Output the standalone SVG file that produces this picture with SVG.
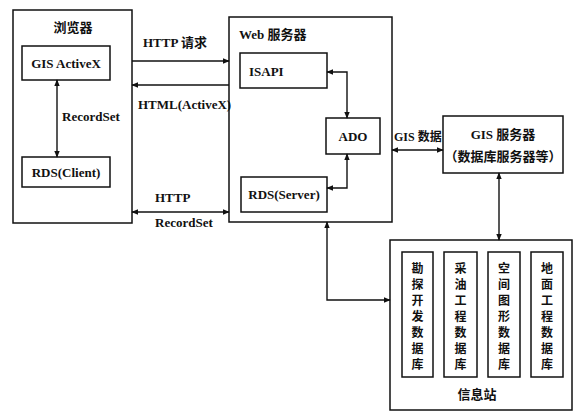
<svg xmlns="http://www.w3.org/2000/svg" width="573" height="411" viewBox="0 0 573 411">
<style>
.box{fill:#fff;stroke:#111;stroke-width:1.5}
.ln{fill:none;stroke:#111;stroke-width:1.4}
.t{font-family:"Liberation Serif","Noto Sans CJK SC",serif;font-size:13px;font-weight:bold;fill:#111}
.c{font-family:"Noto Sans CJK SC",sans-serif;font-size:13px;font-weight:bold;fill:#111}
.v{font-family:"Noto Sans CJK SC",sans-serif;font-size:12px;font-weight:bold;fill:#111;text-anchor:middle}
</style>
<defs>
<marker id="ah" viewBox="0 0 10 10" refX="9" refY="5" markerWidth="7" markerHeight="7" markerUnits="userSpaceOnUse" orient="auto-start-reverse">
<path d="M0,1 L10,5 L0,9 Z" fill="#111"/>
</marker>
</defs>
<rect width="573" height="411" fill="#fff"/>
<g id="browser">
<rect class="box" x="13" y="10" width="119" height="213"/>
<text class="c" x="73" y="32" text-anchor="middle">浏览器</text>
</g>
<g id="gisactivex">
<rect class="box" x="22" y="46" width="88" height="34"/>
<text class="t" x="66" y="68" text-anchor="middle">GIS ActiveX</text>
</g>
<g id="rdsclient">
<rect class="box" x="22" y="157" width="88" height="30"/>
<text class="t" x="66" y="177" text-anchor="middle">RDS(Client)</text>
</g>
<g id="webserver">
<rect class="box" x="229" y="17" width="163" height="205"/>
<text class="t" x="239" y="39">Web <tspan class="c">服务器</tspan></text>
</g>
<g id="isapi">
<rect class="box" x="240" y="53" width="87" height="35"/>
<text class="t" x="249" y="76">ISAPI</text>
</g>
<g id="ado">
<rect class="box" x="326" y="118" width="54" height="36"/>
<text class="t" x="353" y="141" text-anchor="middle">ADO</text>
</g>
<g id="rdsserver">
<rect class="box" x="241" y="177" width="86" height="35"/>
<text class="t" x="284" y="199" text-anchor="middle">RDS(Server)</text>
</g>
<g id="gisserver">
<rect class="box" x="443" y="116" width="120" height="57"/>
<text class="t" x="503" y="139" text-anchor="middle">GIS <tspan class="c">服务器</tspan></text>
<text class="c" x="503" y="161" text-anchor="middle">（数据库服务器等）</text>
</g>
<g id="infostation">
<rect class="box" x="390" y="240" width="182" height="170"/>
<text class="c" x="477" y="399" text-anchor="middle">信息站</text>
</g>
<g id="db1">
<rect class="box" x="402" y="252" width="31" height="125"/>
<text class="v"><tspan x="417.5" y="273">勘</tspan><tspan x="417.5" y="289">探</tspan><tspan x="417.5" y="305">开</tspan><tspan x="417.5" y="321">发</tspan><tspan x="417.5" y="337">数</tspan><tspan x="417.5" y="353">据</tspan><tspan x="417.5" y="369">库</tspan></text>
</g>
<g id="db2">
<rect class="box" x="444" y="252" width="33" height="125"/>
<text class="v"><tspan x="460.5" y="273">采</tspan><tspan x="460.5" y="289">油</tspan><tspan x="460.5" y="305">工</tspan><tspan x="460.5" y="321">程</tspan><tspan x="460.5" y="337">数</tspan><tspan x="460.5" y="353">据</tspan><tspan x="460.5" y="369">库</tspan></text>
</g>
<g id="db3">
<rect class="box" x="488" y="252" width="32" height="125"/>
<text class="v"><tspan x="504" y="273">空</tspan><tspan x="504" y="289">间</tspan><tspan x="504" y="305">图</tspan><tspan x="504" y="321">形</tspan><tspan x="504" y="337">数</tspan><tspan x="504" y="353">据</tspan><tspan x="504" y="369">库</tspan></text>
</g>
<g id="db4">
<rect class="box" x="531" y="252" width="32" height="125"/>
<text class="v"><tspan x="547" y="273">地</tspan><tspan x="547" y="289">面</tspan><tspan x="547" y="305">工</tspan><tspan x="547" y="321">程</tspan><tspan x="547" y="337">数</tspan><tspan x="547" y="353">据</tspan><tspan x="547" y="369">库</tspan></text>
</g>
<g id="connectors">
<line class="ln" x1="57" y1="80" x2="57" y2="157" marker-start="url(#ah)" marker-end="url(#ah)"/>
<text class="t" x="62" y="121">RecordSet</text>
<line class="ln" x1="132" y1="61" x2="229" y2="61" marker-end="url(#ah)"/>
<text class="t" x="143" y="47">HTTP <tspan class="c">请求</tspan></text>
<line class="ln" x1="229" y1="85" x2="132" y2="85" marker-end="url(#ah)"/>
<text class="t" x="138" y="109">HTML(ActiveX)</text>
<line class="ln" x1="132" y1="212" x2="229" y2="212" marker-start="url(#ah)" marker-end="url(#ah)"/>
<text class="t" x="155" y="202">HTTP</text>
<text class="t" x="155" y="227">RecordSet</text>
<polyline class="ln" points="327,72 347,72 347,118" marker-start="url(#ah)" marker-end="url(#ah)"/>
<polyline class="ln" points="347,154 347,188 327,188" marker-start="url(#ah)" marker-end="url(#ah)"/>
<line class="ln" x1="392" y1="150" x2="443" y2="150" marker-start="url(#ah)" marker-end="url(#ah)"/>
<text class="t" x="394" y="141" style="font-size:12px">GIS <tspan class="c" style="font-size:12px">数据</tspan></text>
<line class="ln" x1="499" y1="173" x2="499" y2="240" marker-start="url(#ah)" marker-end="url(#ah)"/>
<polyline class="ln" points="327,222 327,300 390,300" marker-start="url(#ah)" marker-end="url(#ah)"/>
</g>
</svg>
